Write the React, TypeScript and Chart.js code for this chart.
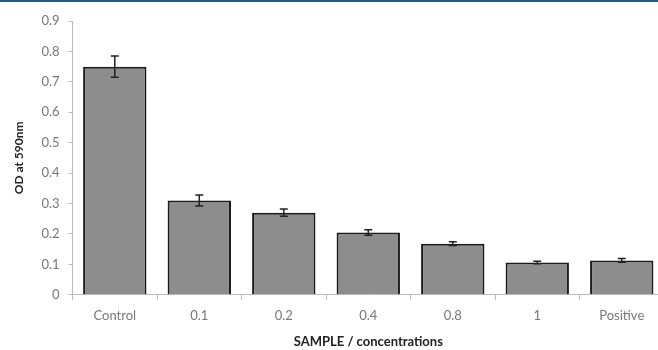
import React, { useEffect, useRef } from "react";
import { Chart, registerables } from "chart.js";

Chart.register(...registerables);

const categories = ["Control", "0.1", "0.2", "0.4", "0.8", "1", "Positive"];
const values = [0.75, 0.31, 0.27, 0.205, 0.168, 0.106, 0.113];
const errors = [0.035, 0.018, 0.012, 0.009, 0.006, 0.004, 0.006];
const yTicks = [0, 0.1, 0.2, 0.3, 0.4, 0.5, 0.6, 0.7, 0.8, 0.9];

const errorBarPlugin = {
  id: "errorBars",
  afterDatasetsDraw(chart: any) {
    const { ctx } = chart;
    const meta = chart.getDatasetMeta(0);
    const y = chart.scales.y;
    ctx.save();
    ctx.strokeStyle = "#222";
    ctx.lineWidth = 1.5;
    meta.data.forEach((bar: any, i: number) => {
      const x = bar.x;
      const top = y.getPixelForValue(values[i] + errors[i]);
      const bot = y.getPixelForValue(values[i] - errors[i]);
      ctx.beginPath();
      ctx.moveTo(x, top);
      ctx.lineTo(x, bot);
      ctx.moveTo(x - 4, top);
      ctx.lineTo(x + 4, top);
      ctx.moveTo(x - 4, bot);
      ctx.lineTo(x + 4, bot);
      ctx.stroke();
    });
    ctx.restore();
  },
};

export default function App() {
  const ref = useRef<HTMLCanvasElement>(null);
  useEffect(() => {
    document.body.style.margin = "0";
    const chart = new Chart(ref.current!, {
      type: "bar",
      data: {
        labels: categories,
        datasets: [
          {
            data: values,
            backgroundColor: "#8d8d8d",
            borderColor: "#1a1a1a",
            borderWidth: 2,
            barPercentage: 0.75,
            categoryPercentage: 1,
          },
        ],
      },
      options: {
        animation: false,
        responsive: false,
        maintainAspectRatio: false,
        layout: { padding: { top: 21, left: 8, right: 0, bottom: 0 } },
        plugins: { legend: { display: false }, tooltip: { enabled: false } },
        scales: {
          x: {
            grid: {
              display: true,
              drawOnChartArea: false,
              offset: true,
              tickLength: 5,
              color: "#bbbbbb",
            },
            border: { color: "#bbbbbb", width: 1 },
            ticks: {
              color: "#777777",
              font: { family: "Lato", size: 13 },
              padding: 8,
            },
            title: {
              display: true,
              text: "SAMPLE / concentrations",
              color: "#222",
              font: { family: "Lato", size: 13, weight: "bold" },
              padding: { top: 3, bottom: 0 },
            },
          },
          y: {
            min: 0,
            max: 0.9,
            afterBuildTicks(scale: any) {
              scale.ticks = yTicks.map((v) => ({ value: v }));
            },
            grid: {
              display: true,
              drawOnChartArea: false,
              tickLength: 4,
              color: "#bbbbbb",
            },
            border: { color: "#bbbbbb", width: 1 },
            ticks: {
              color: "#777777",
              font: { family: "Lato", size: 13 },
              padding: 9,
              callback: (v: any) => (Number(v) === 0 ? "0" : Number(v).toFixed(1)),
            },
            title: {
              display: true,
              text: "OD at 590nm",
              color: "#222",
              font: { family: "Lato", size: 12, weight: "bold" },
              padding: { bottom: 6 },
            },
          },
        },
      },
      plugins: [errorBarPlugin],
    });
    return () => chart.destroy();
  }, []);
  return (
    <div style={{ position: "relative", width: 658, height: 350, overflow: "hidden", background: "#fff" }}>
      <div style={{ position: "absolute", left: 0, top: 0, width: 658, height: 2, background: "#1f5a8f" }} />
      <canvas ref={ref} width={664} height={350} style={{ display: "block" }} />
    </div>
  );
}
